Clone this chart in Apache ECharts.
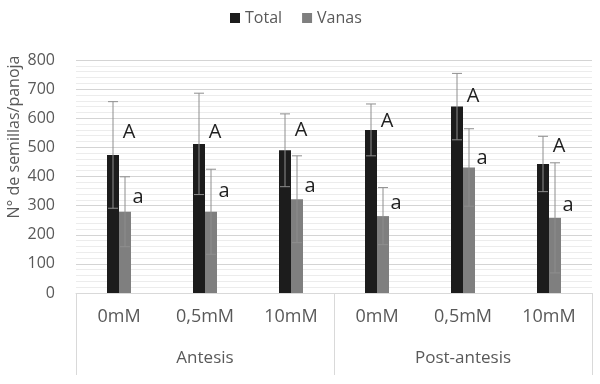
<!DOCTYPE html>
<html>
<head>
<meta charset="utf-8">
<script src="https://cdn.jsdelivr.net/npm/echarts@6/dist/echarts.min.js"></script>
<style>html,body{margin:0;padding:0;background:#fff}#c{width:600px;height:384px}</style>
</head>
<body>
<div id="c"></div>
<script>
const categories = ['0mM', '0,5mM', '10mM', '0mM', '0,5mM', '10mM'];
const groups = ['Antesis', 'Post-antesis'];
const totalMean = [474, 512, 490, 560, 640, 443];
const totalSD = [183, 174, 125, 89, 114, 95];
const vanasMean = [279, 279, 322, 264, 431, 258];
const vanasSD = [120, 146, 149, 98, 133, 189];
const totalLetters = ['A', 'A', 'A', 'A', 'A', 'A'];
const totalLetterY = [553, 553, 557, 590, 674, 503];
const vanasLetters = ['a', 'a', 'a', 'a', 'a', 'a'];
const vanasLetterY = [330, 348, 367, 309, 463, 302];
const yTicks = [0, 100, 200, 300, 400, 500, 600, 700, 800];

const FONT = 'Open Sans';
const GRAY = '#595959';
const BARW = 12;

function errRender(offset) {
  return function (params, api) {
    const x = api.value(0), m = api.value(1), s = api.value(2);
    const top = api.coord([x, m + s]);
    const bot = api.coord([x, m - s]);
    const cx = top[0] + offset;
    const hw = 5;
    const st = { stroke: '#8e8e8e', lineWidth: 1 };
    return {
      type: 'group',
      children: [
        { type: 'line', shape: { x1: cx, y1: top[1], x2: cx, y2: bot[1] }, style: st },
        { type: 'line', shape: { x1: cx - hw, y1: top[1], x2: cx + hw, y2: top[1] }, style: st },
        { type: 'line', shape: { x1: cx - hw, y1: bot[1], x2: cx + hw, y2: bot[1] }, style: st }
      ]
    };
  };
}
function letterRender(offset) {
  return function (params, api) {
    const p = api.coord([api.value(0), api.value(1)]);
    return {
      type: 'text',
      x: p[0] + offset, y: p[1],
      style: { text: api.value(2), font: '20px "' + FONT + '"', fill: '#1f1f1f', align: 'center', verticalAlign: 'middle' }
    };
  };
}

const errTotal = totalMean.map((m, i) => [i, m, totalSD[i]]);
const errVanas = vanasMean.map((m, i) => [i, m, vanasSD[i]]);
const letT = totalLetterY.map((y, i) => [i, y, totalLetters[i]]);
const letV = vanasLetterY.map((y, i) => [i, y, vanasLetters[i]]);

const chart = echarts.init(document.getElementById('c'), null, { renderer: 'canvas' });
chart.setOption({
  animation: false,
  textStyle: { fontFamily: FONT },
  legend: {
    left: 225, top: 5, itemWidth: 10, itemHeight: 10, itemGap: 20,
    icon: 'rect',
    textStyle: { fontSize: 16, color: GRAY, fontFamily: FONT },
    data: ['Total', 'Vanas']
  },
  graphic: [{
    type: 'text', x: 14, y: 137, rotation: Math.PI / 2,
    style: { text: 'N° de semillas/panoja', font: '16px "' + FONT + '"', fill: GRAY, align: 'center', verticalAlign: 'middle' }
  }],
  grid: { left: 76, right: 8, top: 60, bottom: 91 },
  xAxis: [
    {
      type: 'category', data: categories, position: 'bottom',
      axisLine: { show: false }, axisTick: { show: false },
      axisLabel: { margin: 15, fontSize: 18, color: GRAY, interval: 0 }
    },
    {
      type: 'category', data: groups, position: 'bottom',
      axisLine: { show: true, lineStyle: { color: '#d9d9d9' } },
      axisTick: { show: true, length: 82, interval: 0, lineStyle: { color: '#d9d9d9' } },
      axisLabel: { margin: 57, fontSize: 17, color: GRAY, interval: 0 }
    }
  ],
  yAxis: {
    type: 'value', min: yTicks[0], max: yTicks[yTicks.length - 1], interval: 100,
    axisLine: { show: false }, axisTick: { show: false },
    axisLabel: { fontSize: 16, color: GRAY, margin: 21 },
    splitLine: { show: true, lineStyle: { color: '#d4d4d4' } },
    minorTick: { show: false, splitNumber: 5 },
    minorSplitLine: { show: true, lineStyle: { color: '#ececec' } }
  },
  series: [
    { name: 'Total', type: 'bar', data: totalMean, barWidth: BARW, barGap: '0%', itemStyle: { color: '#1c1c1c' }, z: 2 },
    { name: 'Vanas', type: 'bar', data: vanasMean, barWidth: BARW, barGap: '0%', itemStyle: { color: '#7f7f7f' }, z: 2 },
    { type: 'custom', renderItem: errRender(-BARW / 2), data: errTotal, encode: { x: 0, y: 1 }, z: 5, silent: true },
    { type: 'custom', renderItem: errRender(BARW / 2), data: errVanas, encode: { x: 0, y: 1 }, z: 5, silent: true },
    { type: 'custom', renderItem: letterRender(10), data: letT, encode: { x: 0, y: 1 }, z: 6, silent: true },
    { type: 'custom', renderItem: letterRender(19), data: letV, encode: { x: 0, y: 1 }, z: 6, silent: true }
  ]
});
</script>
</body>
</html>
